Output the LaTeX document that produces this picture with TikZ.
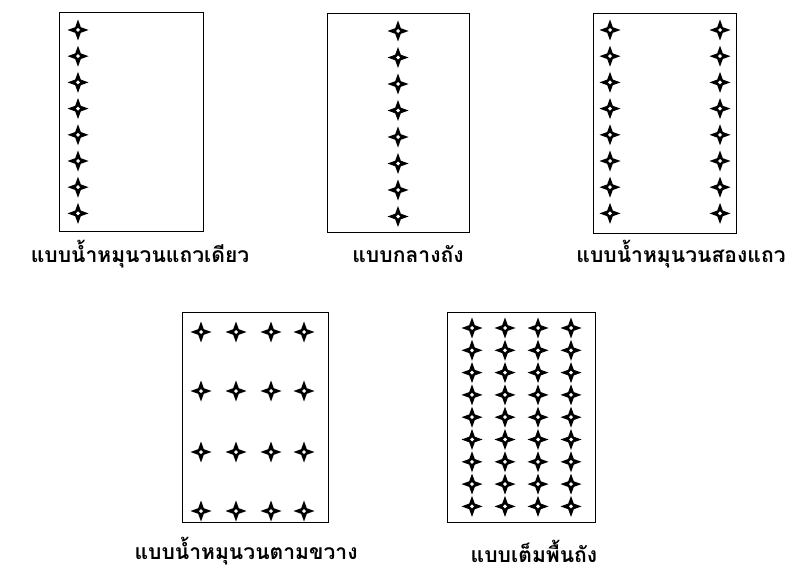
\documentclass[tikz,border=0pt]{standalone}
\usepackage{fontspec}
\newfontfamily\thaifont[Script=Thai]{Loma}
\usetikzlibrary{positioning}
\tikzset{
  tankbox/.style={draw=black, line width=0.9pt, anchor=north west, inner sep=0pt},
  tanklabel/.style={font=\thaifont\bfseries\fontsize{15}{17}\selectfont, inner sep=0pt},
  sparkle/.pic={
    \fill[black] (0,10.5) -- (2.8,2.8) -- (10.5,0) -- (2.8,-2.8) -- (0,-10.5) -- (-2.8,-2.8) -- (-10.5,0) -- (-2.8,2.8) -- cycle;
    \fill[white] (0,2) -- (2,0) -- (0,-2) -- (-2,0) -- cycle;
  }
}
\begin{document}
\begin{tikzpicture}[x=0.025cm, y=-0.025cm]
  \useasboundingbox (0,0) rectangle (793,571);

  % top row of tanks
  \node[tankbox, minimum width=3.6cm, minimum height=5.475cm] (single) at (59,12) {};
  \node[tankbox, minimum width=3.55cm, minimum height=5.475cm] (middle) at (327,13) {};
  \node[tankbox, minimum width=3.575cm, minimum height=5.5cm] (double) at (593,13) {};

  \foreach \k in {0,...,7} {
    \pic at (78,{30+26.2*\k}) {sparkle};
    \pic at (398,{31+26.5*\k}) {sparkle};
    \pic at (610,{30+26.2*\k}) {sparkle};
    \pic at (720,{30+26.2*\k}) {sparkle};
  }

  \node[tanklabel] (singlelbl) at (140,254) {แบบน้ำหมุนวนแถวเดียว};
  \node[tanklabel] (middlelbl) at (408,254) {แบบกลางถัง};
  \node[tanklabel] (doublelbl) at (681,254) {แบบน้ำหมุนวนสองแถว};

  % bottom row of tanks
  \node[tankbox, minimum width=3.65cm, minimum height=5.25cm] (cross) at (182,312) {};
  \node[tankbox, minimum width=3.7cm, minimum height=5.25cm] (full) at (447,312) {};

  \foreach \x in {201,236,271,304}
    \foreach \y in {332,391,452,511}
      \pic at (\x,\y) {sparkle};

  \foreach \x in {472,505,538,571}
    \foreach \k in {0,...,8}
      \pic at (\x,{328+22.3*\k}) {sparkle};

  \node[tanklabel] (crosslbl) at (246,551) {แบบน้ำหมุนวนตามขวาง};
  \node[tanklabel] (fulllbl) at (534,551) {แบบเต็มพื้นถัง};
\end{tikzpicture}
\end{document}
